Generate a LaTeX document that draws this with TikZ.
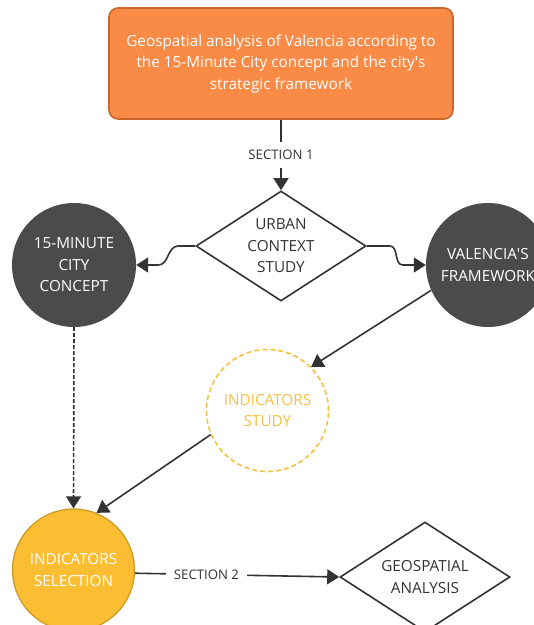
\documentclass[tikz,border=0pt]{standalone}
\usepackage{fontspec}
\setmainfont{Open Sans}
\usetikzlibrary{shapes.geometric,arrows.meta}
\definecolor{orangebox}{HTML}{F98B47}
\definecolor{orangeline}{HTML}{C8662C}
\definecolor{greyfill}{HTML}{4B4B4B}
\definecolor{yellowfill}{HTML}{FBBD32}
\definecolor{yellowline}{HTML}{C99A22}
\definecolor{yellowdash}{HTML}{F5C142}
\definecolor{ink}{HTML}{333333}

\begin{document}
\begin{tikzpicture}[x=1pt,y=-1pt,
    txt/.style={font=\fontsize{15.3}{21.5}\selectfont, align=center, text=ink},
    titlebox/.style={txt, draw=orangeline, fill=orangebox, line width=1.6pt,
      rounded corners=9pt, minimum width=344pt, minimum height=111pt, text=white},
    dia/.style={txt, diamond, draw=ink, line width=1.6pt, fill=white,
      minimum width=170pt, minimum height=110pt, inner sep=0pt, aspect=1.5},
    greycirc/.style={txt, circle, fill=greyfill, text=white, minimum size=124pt, inner sep=0pt},
    studycirc/.style={txt, circle, draw=yellowdash, line width=1.6pt, dash pattern=on 5pt off 3pt,
      text=yellowdash, fill=white, minimum size=122pt, inner sep=0pt},
    selcirc/.style={txt, circle, draw=yellowline, line width=1.2pt, fill=yellowfill, text=white,
      minimum size=122pt, inner sep=0pt},
    arr/.style={draw=ink, line width=1.6pt, -{Triangle[length=12pt,width=15pt]}},
    lbl/.style={font=\fontsize{13.2}{15}\selectfont, text=ink, fill=white, inner sep=8pt}
  ]
      \useasboundingbox (0,0) rectangle (534,625);
      \node[titlebox] (A) at (281,63.5) {Geospatial analysis of Valencia according to\\the 15-Minute City concept and the city\textquotesingle s\\strategic framework};
      \node[dia] (B) at (281,246) {URBAN\\CONTEXT\\STUDY};
      \node[greycirc] (C) at (74,265) {15-MINUTE\\CITY\\CONCEPT};
      \node[greycirc] (D) at (488,265) {VALENCIA\textquotesingle S\\FRAMEWORK};
      \node[studycirc] (E) at (267.5,410.5) {INDICATORS\\STUDY};
      \node[selcirc] (F) at (73.5,570) {INDICATORS\\SELECTION};
      \node[dia] (G) at (425,577) {GEOSPATIAL\\ANALYSIS};
        % Connectors
      \draw[arr] (A.south) -- node[lbl] {SECTION 1} (B.north);
      \draw[arr] (B.west) -- ++(-17,0) to[out=180,in=0] ++(-20,19) -- (C.east);
      \draw[arr] (B.east) -- ++(23,0) to[out=0,in=180] ++(13,19) -- (D.west);
      \draw[arr] (D.204) -- (E.45);
      \draw[arr] (E.203) -- (F.68);
      \draw[arr, dash pattern=on 4pt off 2pt] (C.south) -- (F.north);
      \draw[arr] (F.-3) -- node[lbl, pos=0.35] {SECTION 2} (G.west);
    \end{tikzpicture}
\end{document}
